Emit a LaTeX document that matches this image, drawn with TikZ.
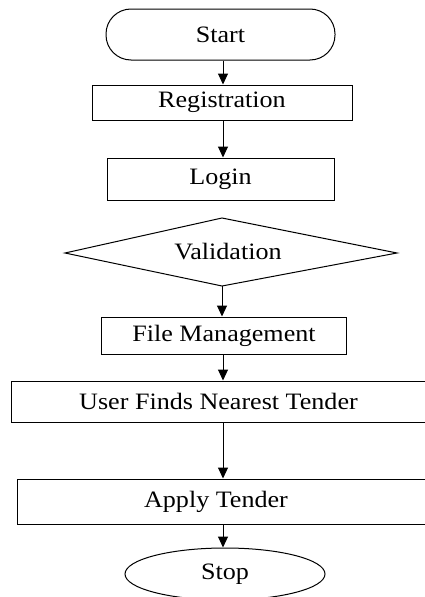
\documentclass[tikz,border=0pt]{standalone}
\usepackage{fontspec}
\setmainfont{Liberation Serif}[FakeStretch=1.11]
\usetikzlibrary{arrows.meta,shapes.geometric}
\begin{document}
\begin{tikzpicture}[x=1pt,y=-1pt,
  every node/.style={font=\fontsize{23.5}{27}\selectfont, inner sep=0pt},
  box/.style={draw, line width=1pt, rectangle},
  term/.style={draw, line width=1pt, rectangle, rounded corners=25pt},
  endoval/.style={draw, line width=1pt, ellipse},
  flow/.style={line width=1pt, -{Triangle[length=11pt,width=10pt]}}]
  \useasboundingbox (0,0) rectangle (425,597);

  % vertical axis that the connectors follow
  \coordinate (spine) at (223,0);

  \node[term, minimum width=229pt, minimum height=51pt] (start) at (220.5,34.5) {Start};
  \node[box, minimum width=260pt, minimum height=35pt] (reg) at (222,102.5) {Registration};
  \node[box, minimum width=227pt, minimum height=42pt] (login) at (220.5,179) {Login};

  % decision shape with its four corners
  \coordinate (vtop) at (222,218);
  \coordinate (vright) at (397,253);
  \coordinate (vbot) at (222,286);
  \coordinate (vleft) at (65,253);
  \draw[line width=1pt] (vtop) -- (vright) -- (vbot) -- (vleft) -- cycle;
  \node (valid) at (228,252) {Validation};

  \node[box, minimum width=245pt, minimum height=37pt] (file) at (224,335.5) {File Management};
  \node[box, minimum width=415pt, minimum height=41pt] (finds) at (218.5,401.5) {User Finds Nearest Tender};
  \node[box, minimum width=409pt, minimum height=45pt] (apply) at (221.5,501.5) {};
  \node (applytext) at (216,501.5) {Apply Tender};
  \node[endoval, minimum width=200pt, minimum height=52pt] (stop) at (225,574) {Stop};

  \draw[flow] (start.south -| spine) -- (reg.north -| spine);
  \draw[flow] (reg.south -| spine) -- (login.north -| spine);
  \draw[flow] (vbot) -- (file.north -| vbot);
  \draw[flow] (file.south -| spine) -- (finds.north -| spine);
  \draw[flow] (finds.south -| spine) -- (apply.north -| spine);
  \draw[flow] (apply.south -| spine) -- (stop.north -| spine);
\end{tikzpicture}
\end{document}
